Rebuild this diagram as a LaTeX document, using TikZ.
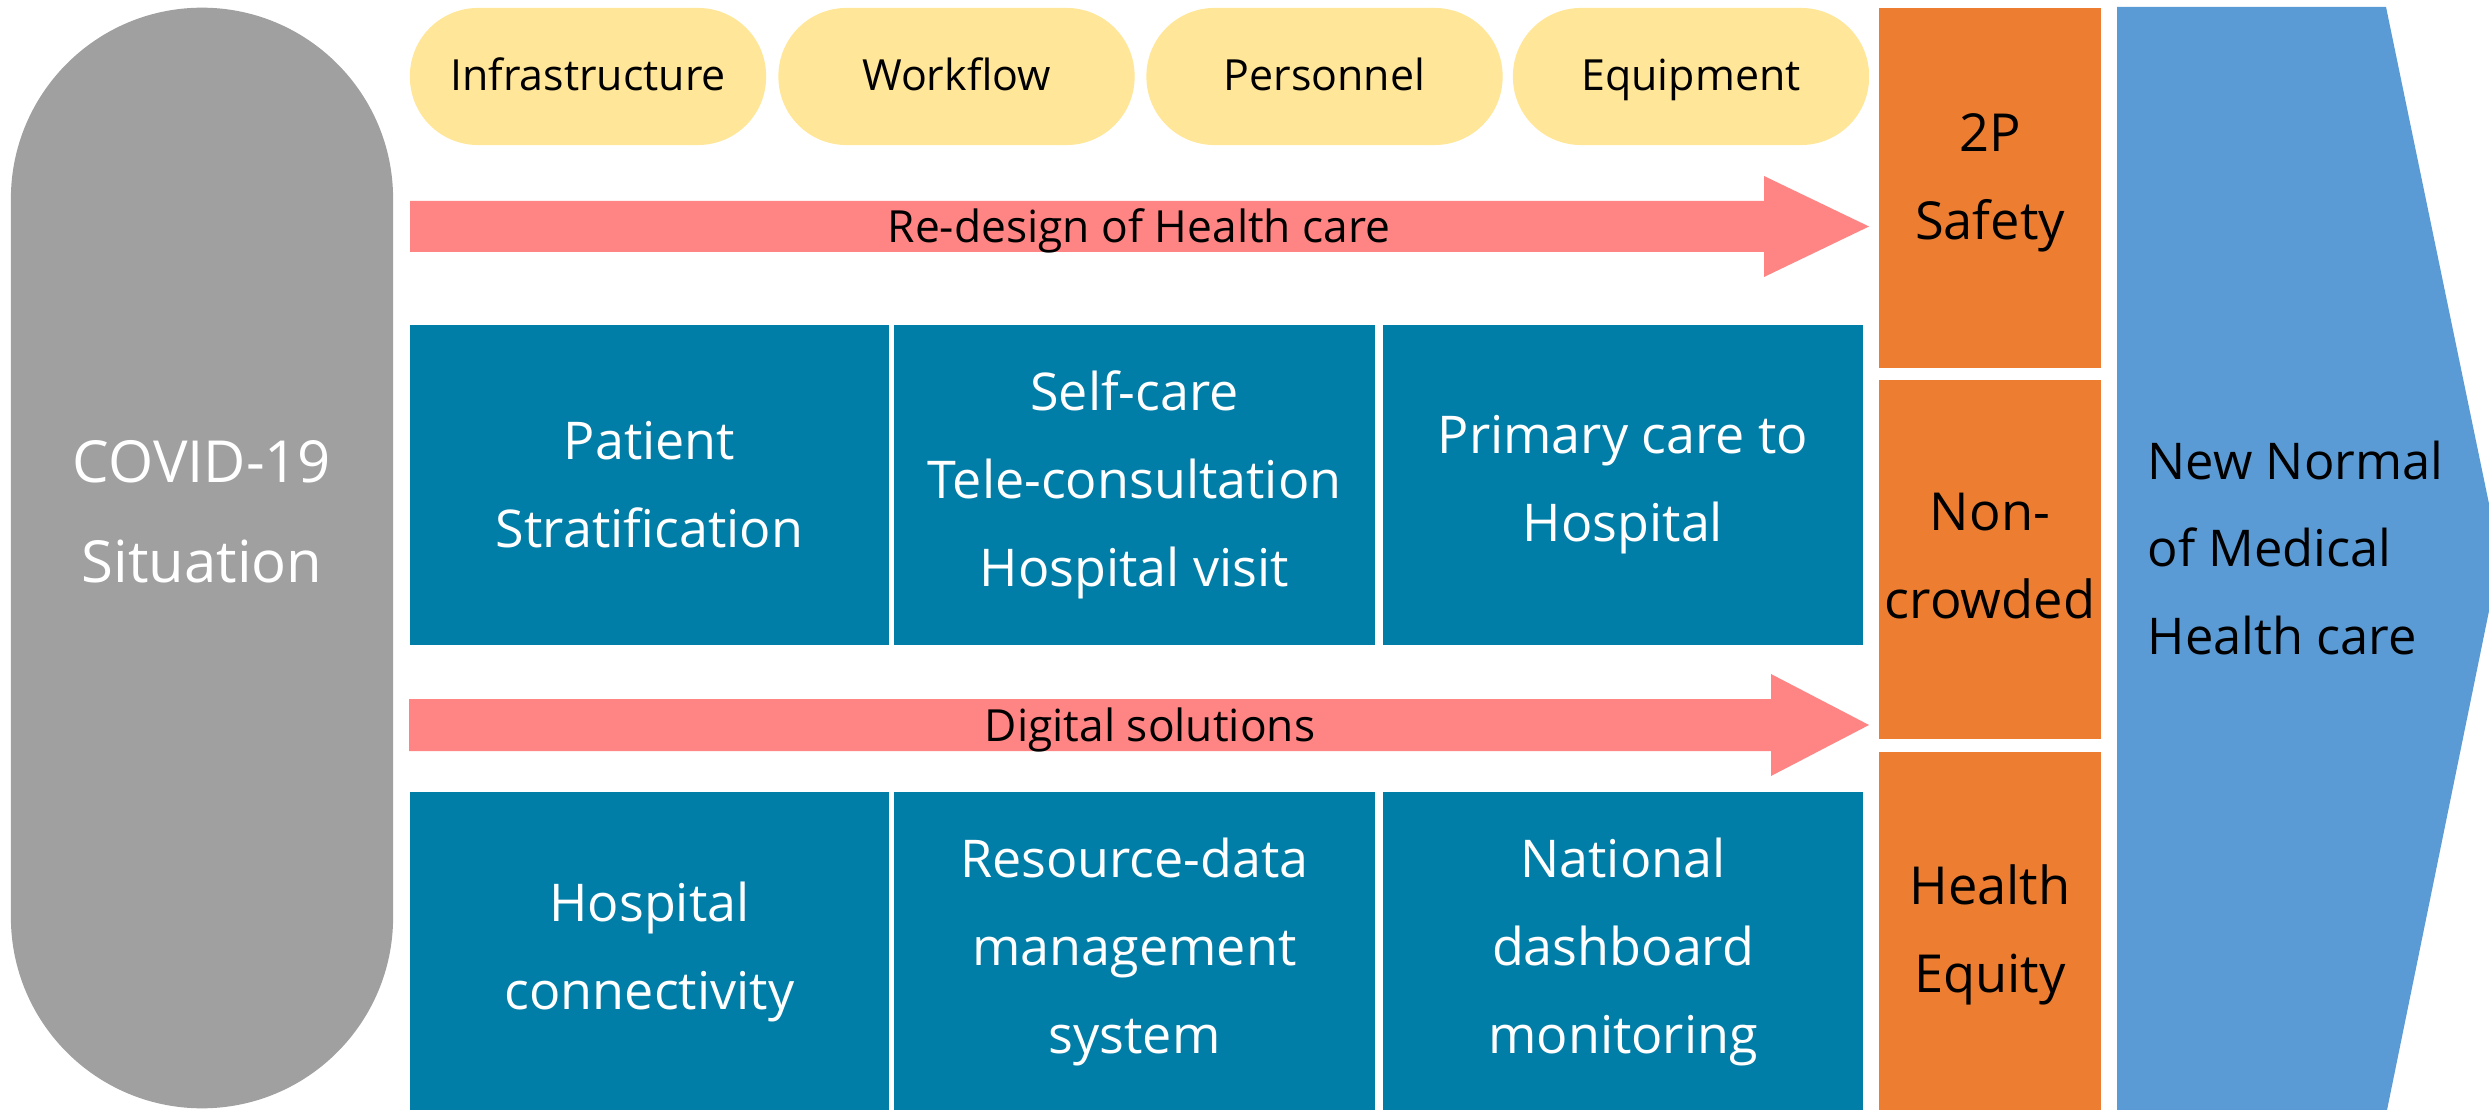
\documentclass[tikz,border=0pt]{standalone}
\usepackage{fontspec}
\setmainfont{Open Sans}
\usetikzlibrary{positioning}
\definecolor{cgray}{HTML}{A0A0A0}
\definecolor{cyel}{HTML}{FFE699}
\definecolor{cpink}{HTML}{FF8585}
\definecolor{cteal}{HTML}{007EA7}
\definecolor{corange}{HTML}{ED7D31}
\definecolor{cblue}{HTML}{5B9BD5}
\tikzset{
  pill/.style={fill=cyel, draw=none, rounded corners=6.8mm, minimum width=35.6mm, minimum height=13.7mm, inner sep=0pt},
  pilltext/.style={anchor=base, inner sep=0pt, text=black, font=\fontsize{12.2}{14}\selectfont},
  tealbox/.style={fill=cteal, draw=none, minimum width=48mm, minimum height=32mm, inner sep=0pt, align=center, text=white, font=\fontsize{14.8}{25}\selectfont},
  orangebox/.style={fill=corange, draw=none, minimum width=22.2mm, inner sep=0pt},
  orangetext/.style={align=center, inner sep=0pt, text=black, font=\fontsize{14.9}{25}\selectfont},
  arrowlabel/.style={anchor=base, inner sep=0pt, text=black, font=\fontsize{12.6}{14}\selectfont},
  pinkarrow/.style={fill=cpink, draw=none},
}
\begin{document}
\begin{tikzpicture}[x=0.01cm, y=-0.01cm]
\useasboundingbox (0,0) rectangle (2489,1110);
\clip (0,0) rectangle (2489,1110);
% COVID stadium
\node[fill=cgray, draw=none, rounded corners=19.1mm, minimum width=38.2mm, minimum height=110mm, inner sep=0pt] (covid) at (202,558) {};
\node[text=white, align=center, font=\fontsize{16.5}{28.5}\selectfont] (covidtxt) at (202,512) {COVID-19\\Situation};
% pills
\node[pill] (infra) at (588,76.5) {};
\node[pill] (work) at (956.5,76.5) {};
\node[pill] (pers) at (1324.5,76.5) {};
\node[pill] (equip) at (1691,76.5) {};
\node[pilltext] (infratxt) at (588,91) {Infrastructure};
\node[pilltext] (worktxt) at (956.5,91) {Workflow};
\node[pilltext] (perstxt) at (1324.5,91) {Personnel};
\node[pilltext] (equiptxt) at (1691,91) {Equipment};
% pink arrow 1
\coordinate (a1t) at (1869,226.5);
\fill[pinkarrow] (410,201) -- (1764,201) -- (1764,176) -- (a1t) -- (1764,277) -- (1764,252) -- (410,252) -- cycle;
\node[arrowlabel] (redesign) at (1139,243) {Re-design of Health care};
% pink arrow 2
\coordinate (a2t) at (1869,725);
\fill[pinkarrow] (409,699) -- (1771,699) -- (1771,674) -- (a2t) -- (1771,776) -- (1771,751) -- (409,751) -- cycle;
\node[arrowlabel] (digital) at (1150,741) {Digital solutions};
% teal boxes row 1
\node[tealbox, minimum width=47.9mm] (strat) at (649.5,485) {Patient\\Stratification};
\node[tealbox, minimum width=48.1mm] (self) at (1134.5,485) {Self-care\\Tele-consultation\\Hospital visit};
\node[tealbox, minimum width=48.0mm] (prim) at (1623,485) {Primary care to\\Hospital};
% teal boxes row 2
\node[tealbox, minimum width=47.9mm, minimum height=31.9mm] (conn) at (649.5,952) {Hospital\\connectivity};
\node[tealbox, minimum width=48.1mm, minimum height=31.9mm] (res) at (1134.5,952) {Resource-data\\management\\system};
\node[tealbox, minimum width=48.0mm, minimum height=31.9mm] (nat) at (1623,952) {National\\dashboard\\monitoring};
% orange boxes
\node[orangebox, minimum height=36mm] (safety) at (1990,188) {};
\node[orangebox, minimum height=35.9mm] (crowd) at (1990,559.5) {};
\node[orangebox, minimum height=35.9mm] (equity) at (1990,932) {};
\node[orangetext] (safetytxt) at (1990,183) {2P\\Safety};
\node[orangetext] (crowdtxt) at (1990,556) {Non-\\crowded};
\node[orangetext] (equitytxt) at (1990,935) {Health\\Equity};
% blue chevron
\fill[cblue] (2117,7) -- (2386,7) -- (2500,557) -- (2387,1110) -- (2117,1115) -- cycle;
\node[anchor=west, align=left, text=black, font=\fontsize{14.4}{25}\selectfont, inner sep=0pt] (newnormal) at (2147,548) {New Normal\\of Medical\\Health care};
\end{tikzpicture}
\end{document}
